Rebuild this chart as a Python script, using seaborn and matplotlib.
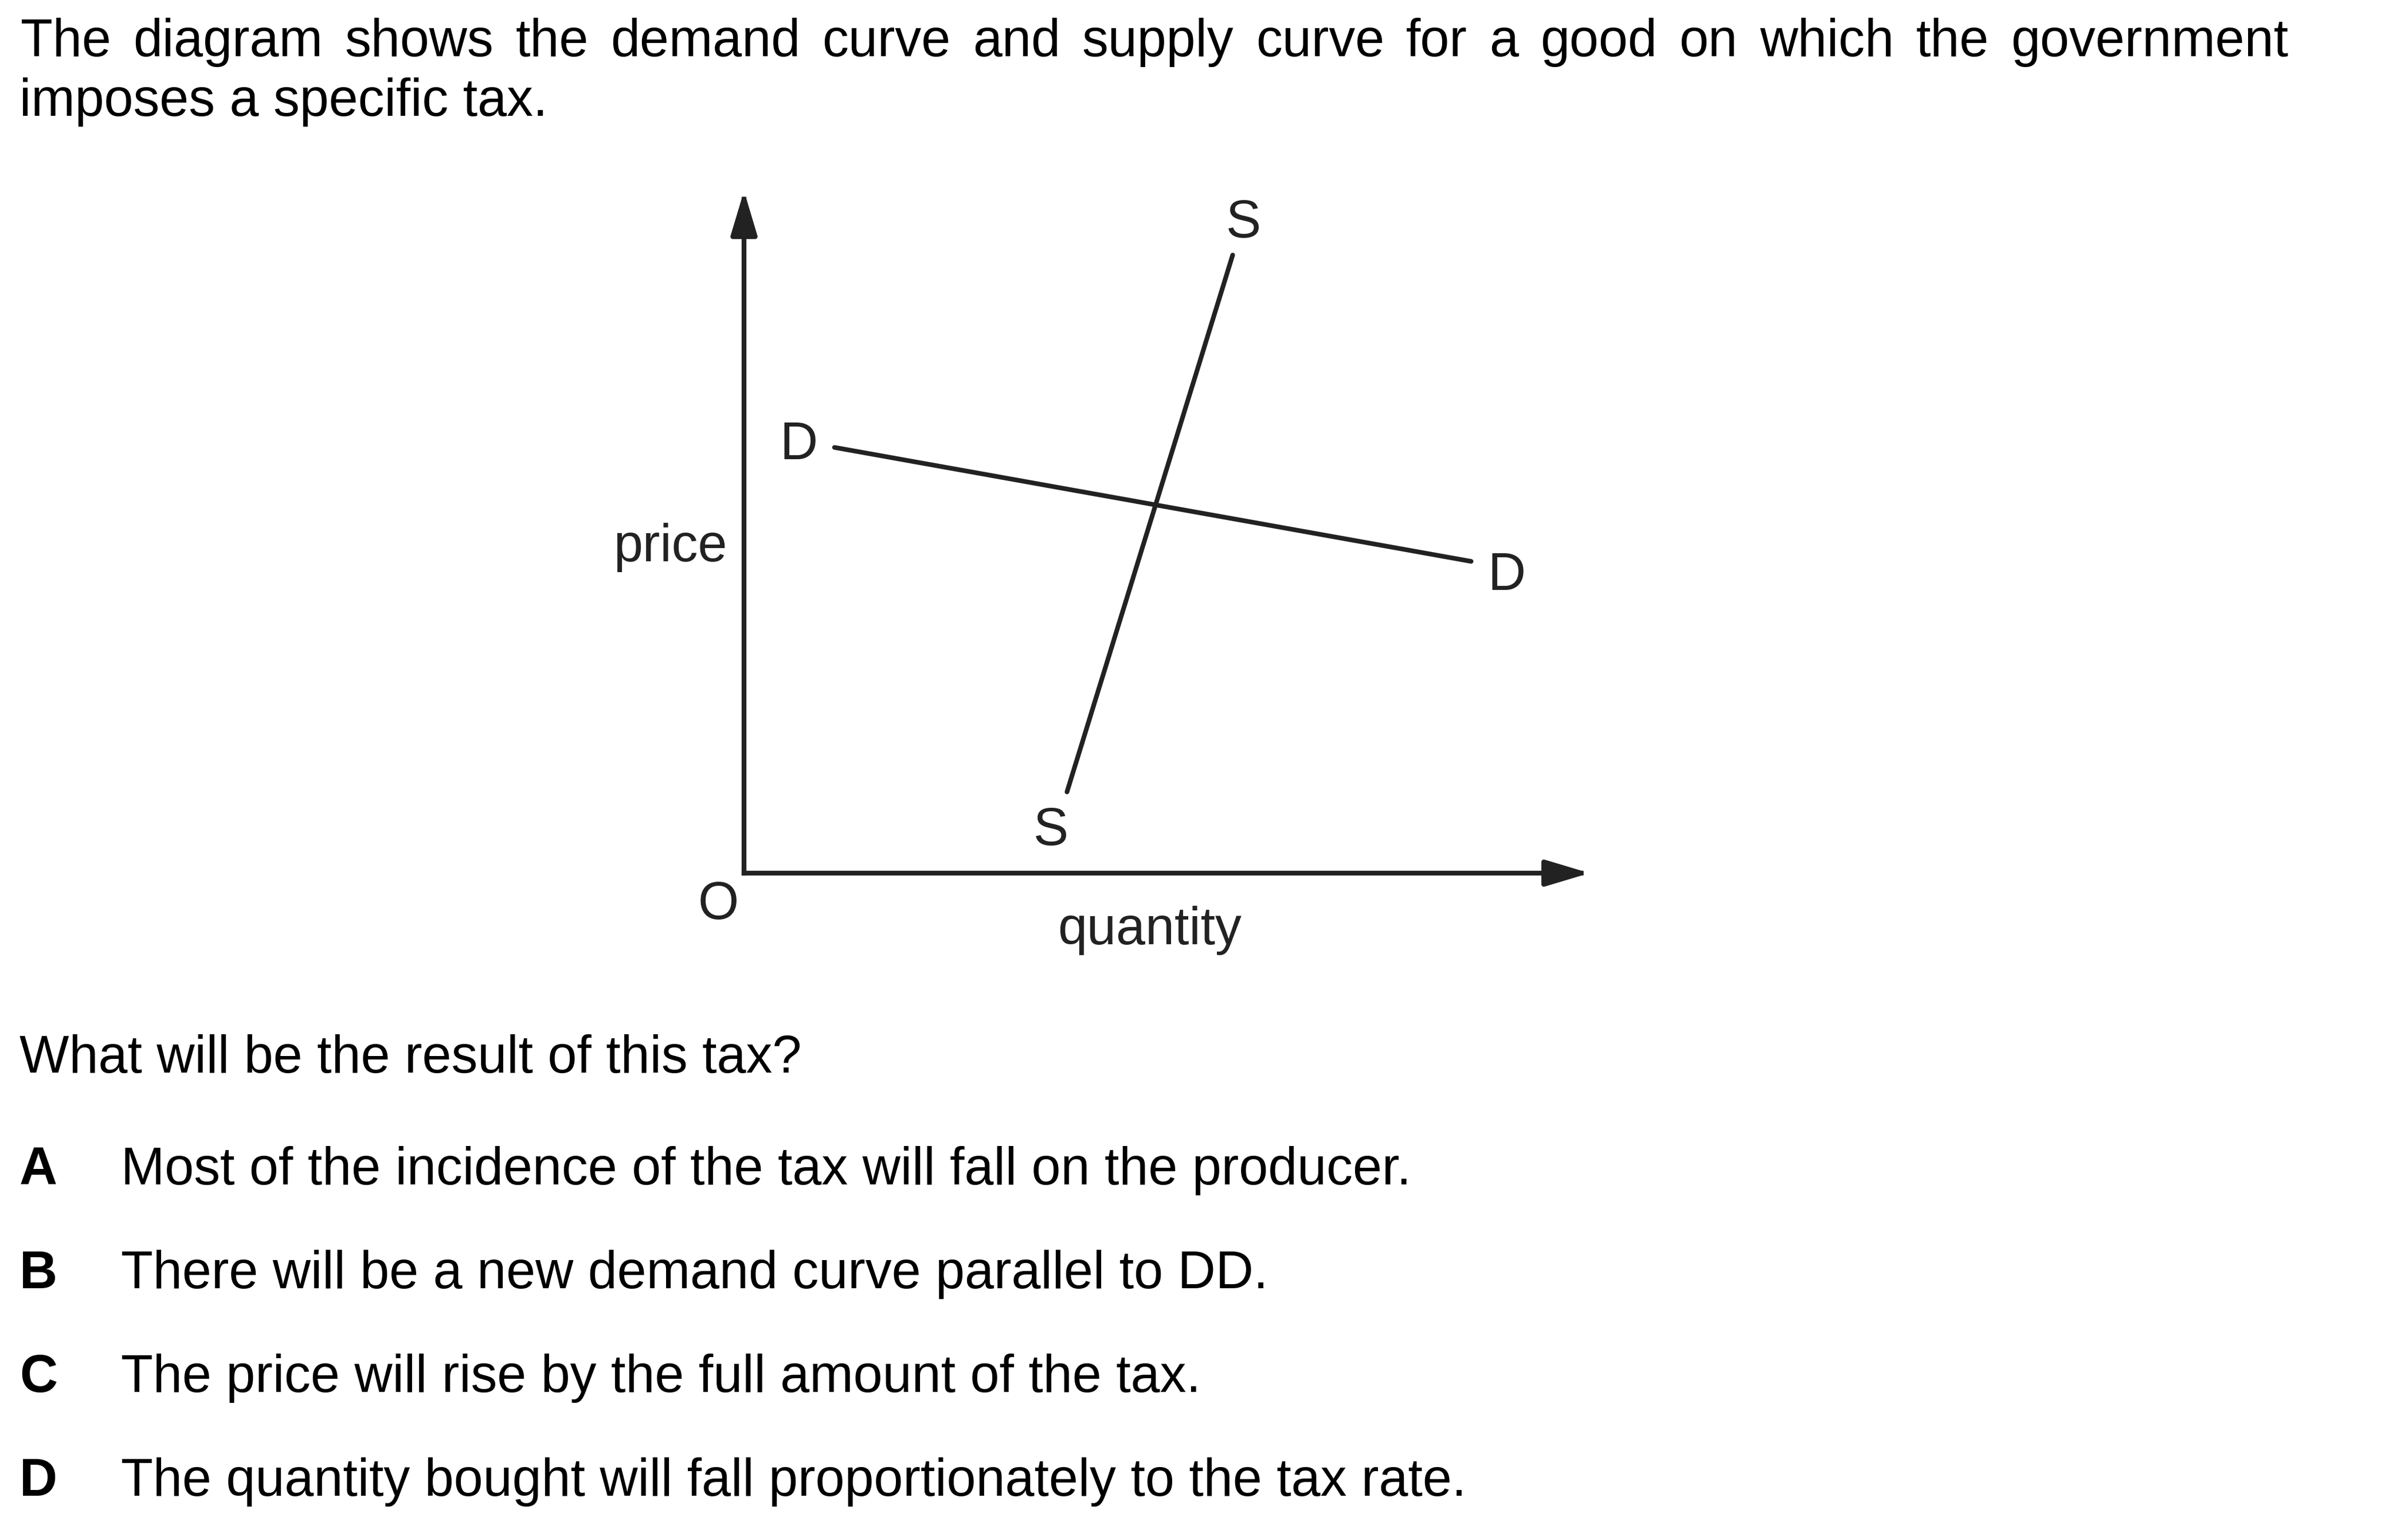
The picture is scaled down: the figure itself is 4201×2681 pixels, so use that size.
import matplotlib
matplotlib.use("Agg")
import matplotlib.pyplot as plt
import seaborn as sns
import pandas as pd

W, H = 4201, 2681
DPI = 100

# question text
intro_words = ("The diagram shows the demand curve and supply curve for a good "
               "on which the government").split()
intro_tail = "imposes a specific tax."
question = "What will be the result of this tax?"
option_keys = ["A", "B", "C", "D"]
option_texts = [
    "Most of the incidence of the tax will fall on the producer.",
    "There will be a new demand curve parallel to DD.",
    "The price will rise by the full amount of the tax.",
    "The quantity bought will fall proportionately to the tax rate.",
]

# diagram, in arbitrary units (both axes run 0..100)
axis_len = 100
demand_q = [10.7, 86.0]
demand_p = [62.4, 45.7]
supply_q = [38.2, 57.8]
supply_p = [11.9, 90.6]

sns.set_theme(style="white")
plt.rcParams["font.family"] = ["Liberation Sans", "DejaVu Sans"]

FS = 66
INK = "#222222"


def fx(px):
    return px / W


def fy(py):
    return 1 - py / H


fig = plt.figure(figsize=(W / DPI, H / DPI), dpi=DPI)
fig.patch.set_facecolor("white")

# --- diagram ---
ox, oy = 1298, 1523   # origin (pixels)
tx, ty = 2773, 333    # arrow tips (pixels)
ax = fig.add_axes([fx(ox), fy(oy), fx(tx) - fx(ox), fy(ty) - fy(oy)])
ax.set_xlim(0, axis_len)
ax.set_ylim(0, axis_len)
ax.axis("off")

curves = pd.DataFrame({
    "quantity": demand_q + supply_q,
    "price": demand_p + supply_p,
    "curve": ["D", "D", "S", "S"],
})
sns.lineplot(data=curves, x="quantity", y="price", hue="curve",
             palette={"D": INK, "S": INK}, linewidth=5.8, legend=False,
             sort=False, ax=ax)

arrow = dict(arrowstyle="-|>,head_length=0.5,head_width=0.15", color=INK,
             lw=6, shrinkA=0, shrinkB=0, mutation_scale=94,
             capstyle="projecting")
ax.annotate("", xy=(axis_len, 0), xytext=(0, 0), arrowprops=arrow,
            annotation_clip=False)
ax.annotate("", xy=(0, axis_len), xytext=(0, 0), arrowprops=arrow,
            annotation_clip=False)

lab = dict(fontsize=FS, color=INK, ha="center", va="baseline")
ax.text(demand_q[0] - 4.2, demand_p[0] - 1.7, "D", **lab)
ax.text(demand_q[1] + 4.2, demand_p[1] - 4.2, "D", **lab)
ax.text(supply_q[1] + 1.25, supply_p[1] + 2.6, "S", **lab)
ax.text(supply_q[0] - 1.9, supply_p[0] - 7.8, "S", **lab)
ax.text(-8.7, 45.7, "price", **lab)
ax.text(-3.05, -6.7, "O", **lab)
ax.text(axis_len * 0.48, -10.4, "quantity", **lab)

# --- text block ---
renderer = fig.canvas.get_renderer()
words = [fig.text(0, fy(98), w, fontsize=FS, color="black", va="baseline")
         for w in intro_words]
widths = [t.get_window_extent(renderer).width for t in words]
left, right = 36, 3992
gap = (right - left - sum(widths)) / (len(words) - 1)
x = left
for t, w in zip(words, widths):
    t.set_x(fx(x))
    x += w + gap

fig.text(fx(34), fy(202), intro_tail, fontsize=FS, color="black", va="baseline")
fig.text(fx(34), fy(1871), question, fontsize=FS, color="black", va="baseline")

for i, (k, s) in enumerate(zip(option_keys, option_texts)):
    yb = 2066 + i * 181
    fig.text(fx(34), fy(yb), k, fontsize=FS, fontweight="bold",
             color="black", va="baseline")
    fig.text(fx(211), fy(yb), s, fontsize=FS, color="black", va="baseline")

fig.savefig("out.png", dpi=DPI, facecolor="white")
